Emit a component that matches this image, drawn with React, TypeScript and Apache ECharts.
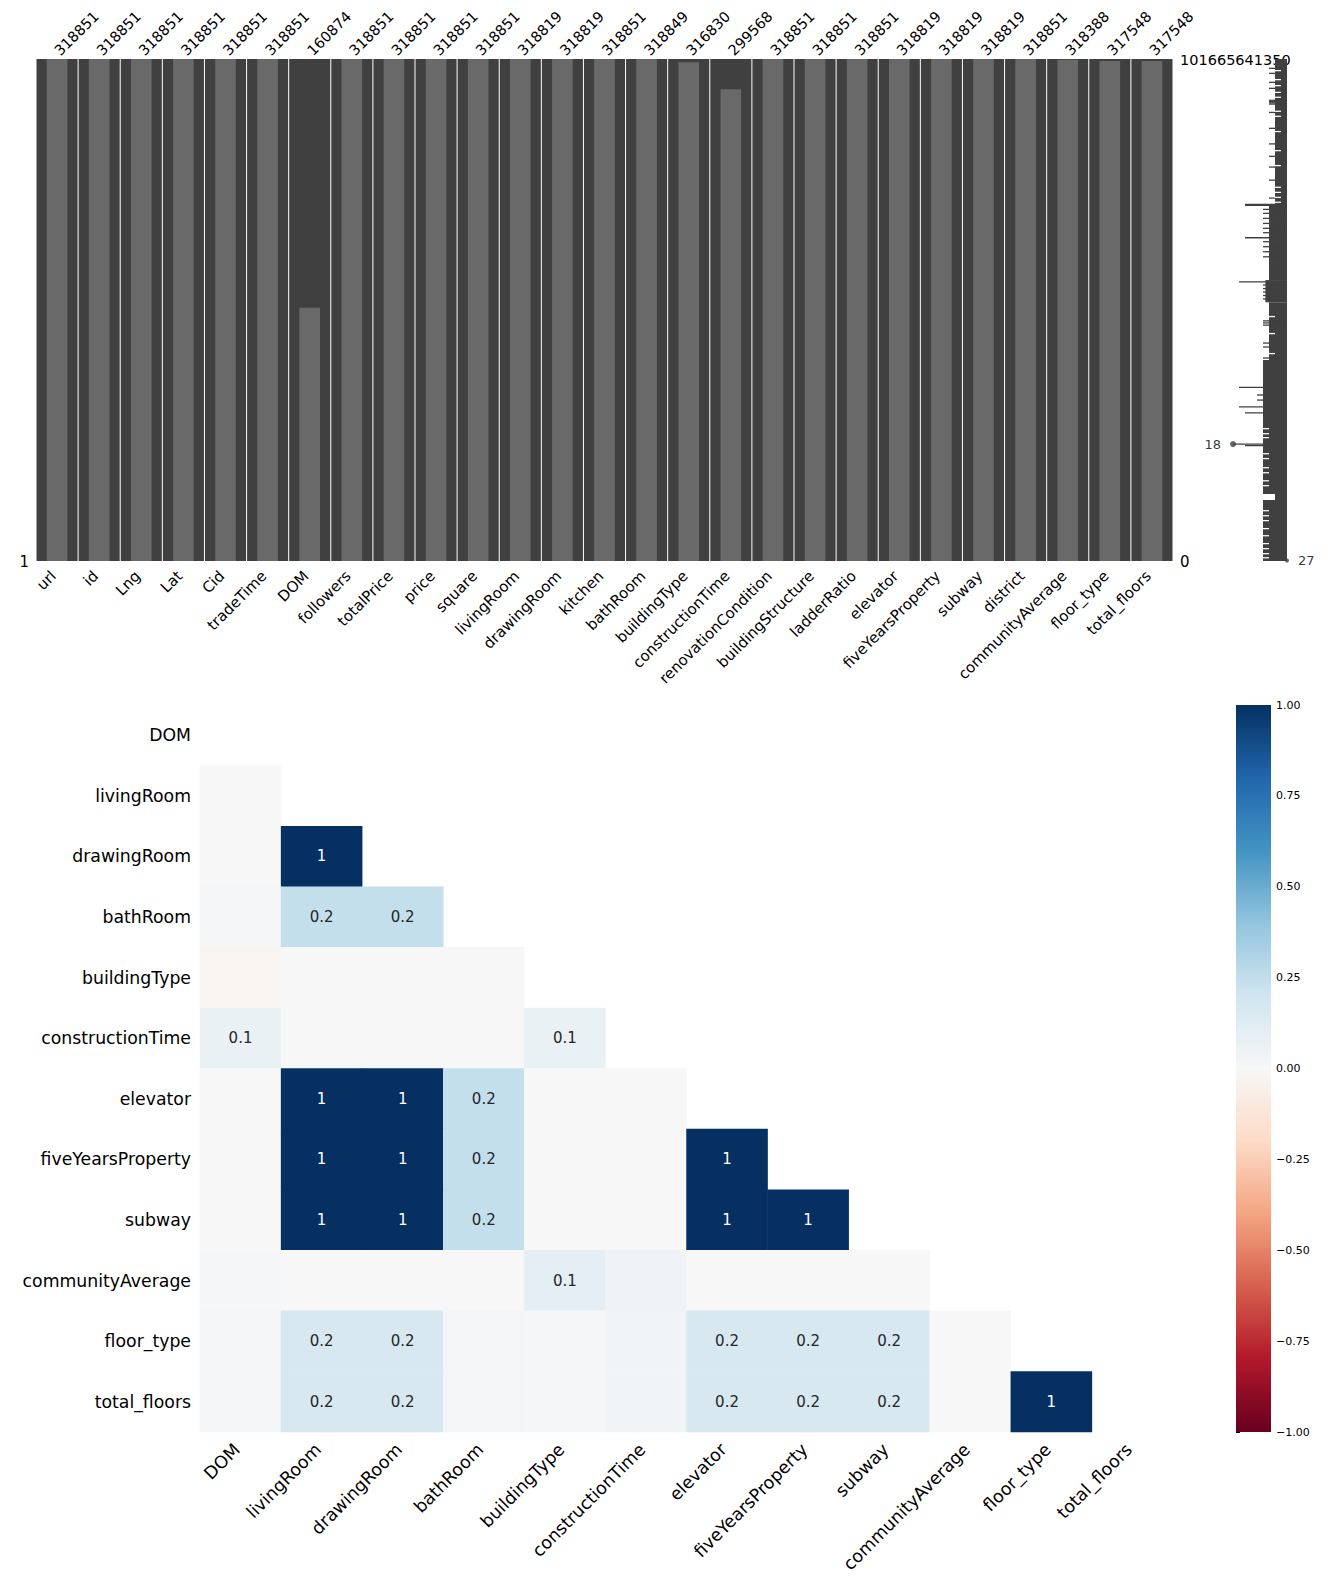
import React, { useEffect, useRef } from 'react';
import * as echarts from 'echarts';

const FONT = 'DejaVu Sans';

// ---------- missingness matrix ----------
const matrixColumns = [
  'url', 'id', 'Lng', 'Lat', 'Cid', 'tradeTime', 'DOM', 'followers', 'totalPrice', 'price',
  'square', 'livingRoom', 'drawingRoom', 'kitchen', 'bathRoom', 'buildingType', 'constructionTime',
  'renovationCondition', 'buildingStructure', 'ladderRatio', 'elevator', 'fiveYearsProperty',
  'subway', 'district', 'communityAverage', 'floor_type', 'total_floors',
];
const nonNullCounts = [
  318851, 318851, 318851, 318851, 318851, 318851, 160874, 318851, 318851, 318851,
  318851, 318819, 318819, 318851, 318849, 316830, 299568,
  318851, 318851, 318851, 318819, 318819,
  318819, 318851, 318388, 317548, 317548,
];
const TOTAL_ROWS = 318851;
const indexTopLabel = '101665641350';
const leftBottomLabel = '1';
const rightBottomLabel = '0';

// ---------- sparkline (row completeness), rows in thousands ----------
const SPARK_MIN = 18;
const SPARK_MAX = 27;
// [rowStart, rowEnd, minimum completeness]
const sparkCore = [
  [0, 92.7, 25],
  [92.7, 140.4, 24],
  [140.4, 154.5, 23.4],
  [154.5, 191.2, 24],
  [191.2, 318.851, 23],
];
// [row, completeness] thin dips to the left
const sparkDips = [
  [5.9, 24], [9.1, 24], [14.8, 24], [18.6, 24], [26.2, 24], [27.0, 24], [27.8, 24], [28.6, 24],
  [33.9, 24], [44.0, 24], [53.9, 24], [61.8, 24], [68.6, 24], [76.9, 24], [88.3, 24],
  [92.4, 20], [93.0, 20],
  [95.5, 23], [98.0, 23], [101.2, 23], [104.4, 23], [107.5, 23], [110.3, 23], [116.0, 23],
  [119.2, 23], [122.4, 23], [125.6, 23], [113.5, 20], [141.5, 19],
  [143.5, 23], [145.8, 23], [148.0, 23], [150.2, 23], [152.4, 23],
  [166.3, 23], [167.6, 23], [169.0, 23], [180.4, 23], [182.9, 23], [189.9, 23],
  [208.5, 19], [213.4, 22], [216.6, 22], [220.9, 19], [224.7, 20], [244.6, 18], [245.6, 20],
];
// [rowStart, rowEnd, from, to] gaps where the line stays right of the core edge
const sparkGaps = [
  [7.0, 7.8, 25, 26], [12.7, 13.5, 25, 26], [16.5, 17.3, 25, 26], [20.8, 21.6, 25, 26],
  [23.9, 24.7, 25, 26], [32.8, 33.6, 25, 26], [36.0, 36.8, 25, 26], [45.7, 46.5, 25, 26],
  [57.8, 58.6, 25, 26], [67.3, 68.1, 25, 26], [81.1, 81.9, 25, 26], [84.3, 85.1, 25, 26],
  [87.5, 88.3, 25, 26], [90.6, 91.4, 25, 26],
  [163.2, 164.0, 24, 25], [174.0, 174.8, 24, 25], [186.7, 187.5, 24, 25],
  [234.4, 235.2, 23, 24], [237.6, 238.4, 23, 24], [240.1, 240.9, 23, 24], [250.3, 251.1, 23, 24],
  [253.4, 254.2, 23, 24], [259.2, 260.0, 23, 24], [262.4, 263.2, 23, 24], [267.5, 268.3, 23, 24],
  [270.6, 271.4, 23, 24], [276.3, 280.1, 23, 25], [286.5, 287.3, 23, 24], [289.7, 290.5, 23, 24],
  [292.8, 293.6, 23, 24], [297.9, 298.7, 23, 24], [302.4, 303.2, 23, 24], [307.4, 308.2, 23, 24],
  [310.6, 311.4, 23, 24], [313.8, 314.6, 23, 24], [316.4, 317.2, 23, 24],
];
const sparkExtremes = [
  { value: [18, 244.6], text: '18', side: 'left', size: 6 },
  { value: [27, 318.6], text: '27', side: 'right', size: 4 },
];

// ---------- nullity correlation heatmap ----------
const heatLabels = [
  'DOM', 'livingRoom', 'drawingRoom', 'bathRoom', 'buildingType', 'constructionTime',
  'elevator', 'fiveYearsProperty', 'subway', 'communityAverage', 'floor_type', 'total_floors',
];
const nullityCorr = [
  [],
  [0.0],
  [0.0, 1],
  [0.01, 0.24, 0.24],
  [-0.02, 0.0, 0.0, 0.0],
  [0.07, 0.0, 0.0, 0.0, 0.07],
  [0.0, 1, 1, 0.24, 0.0, 0.0],
  [0.0, 1, 1, 0.24, 0.0, 0.0, 1],
  [0.0, 1, 1, 0.24, 0.0, 0.0, 1, 1],
  [0.01, 0.0, 0.0, 0.0, 0.1, 0.04, 0.0, 0.0, 0.0],
  [0.02, 0.17, 0.17, 0.02, 0.01, 0.03, 0.17, 0.17, 0.17, 0.0],
  [0.02, 0.17, 0.17, 0.02, 0.01, 0.03, 0.17, 0.17, 0.17, 0.0, 1],
];
const rdBu = [
  '#67001f', '#b2182b', '#d6604d', '#f4a582', '#fddbc7', '#f7f7f7',
  '#d1e5f0', '#92c5de', '#4393c3', '#2166ac', '#053061',
];
const COLORBAR_MIN = -1;
const COLORBAR_MAX = 1;
const COLORBAR_STEP = 0.25;

function fmtCorr(v: number): string {
  if (v === 1) return '1';
  if (v === -1) return '-1';
  if (v >= 0.95 && v < 1) return '<1';
  if (v <= -0.95 && v > -1) return '>-1';
  if (v > -0.05 && v < 0.05) return '';
  return String(Math.round(v * 10) / 10);
}

export default function App() {
  const ref = useRef<HTMLDivElement>(null);

  useEffect(() => {
    const chart = echarts.init(ref.current as HTMLDivElement, null, { renderer: 'svg' });

    const heatData: any[] = [];
    nullityCorr.forEach((row, i) => {
      row.forEach((v, j) => {
        heatData.push({
          value: [j, i, v],
          label: { color: Math.abs(v) > 0.6 ? '#ffffff' : '#262626' },
        });
      });
    });

    const option: any = {
      animation: false,
      backgroundColor: '#ffffff',
      textStyle: { fontFamily: FONT },
      grid: [
        { left: 36, top: 59, width: 1137, height: 502 },
        { left: 1233, top: 59, width: 54, height: 502 },
        { left: 200, top: 705, width: 973, height: 727 },
        { left: 1236, top: 705, width: 35, height: 727 },
      ],
      xAxis: [
        {
          gridIndex: 0, type: 'category', data: matrixColumns, position: 'bottom',
          axisLine: { show: false }, axisTick: { show: false }, splitLine: { show: false },
          axisLabel: { rotate: 45, interval: 0, fontSize: 15, margin: 9, padding: [0, 5, 0, 0], color: '#000', fontFamily: FONT },
        },
        {
          gridIndex: 0, type: 'category', data: nonNullCounts.map(String), position: 'top',
          axisLine: { show: false }, axisTick: { show: false }, splitLine: { show: false },
          axisLabel: { rotate: -45, interval: 0, fontSize: 14.5, margin: 6, color: '#000', fontFamily: FONT },
        },
        { gridIndex: 1, type: 'value', min: SPARK_MIN, max: SPARK_MAX, show: false },
        {
          gridIndex: 2, type: 'category', data: heatLabels, position: 'bottom',
          axisLine: { show: false }, axisTick: { show: false }, splitLine: { show: false },
          axisLabel: { rotate: 45, interval: 0, fontSize: 17.5, margin: 11, padding: [0, 5, 0, 0], color: '#000', fontFamily: FONT },
        },
        { gridIndex: 3, type: 'value', min: 0, max: 1, show: false },
      ],
      yAxis: [
        { gridIndex: 0, type: 'value', min: 0, max: TOTAL_ROWS, inverse: true, show: false },
        { gridIndex: 1, type: 'value', min: 0, max: TOTAL_ROWS / 1000, inverse: true, show: false },
        {
          gridIndex: 2, type: 'category', data: heatLabels, inverse: true,
          axisLine: { show: false }, axisTick: { show: false }, splitLine: { show: false },
          axisLabel: { interval: 0, fontSize: 17.3, margin: 9, color: '#000', fontFamily: FONT },
        },
        {
          gridIndex: 3, type: 'value', min: COLORBAR_MIN, max: COLORBAR_MAX, interval: COLORBAR_STEP,
          position: 'right',
          axisLine: { show: false },
          axisTick: { show: true, length: 4, lineStyle: { color: '#000', width: 1 } },
          splitLine: { show: false },
          axisLabel: {
            fontSize: 11, margin: 5, color: '#000', fontFamily: FONT,
            formatter: (v: number) => (v < 0 ? '\u2212' : '') + Math.abs(v).toFixed(2),
          },
        },
      ],
      visualMap: {
        type: 'continuous', show: false, seriesIndex: 5, dimension: 2,
        min: COLORBAR_MIN, max: COLORBAR_MAX, inRange: { color: rdBu },
      },
      series: [
        {
          type: 'custom', xAxisIndex: 0, yAxisIndex: 0,
          data: nonNullCounts.map((c, i) => [i, c]),
          renderItem: (params: any, api: any) => {
            const idx = api.value(0);
            const count = api.value(1);
            const top = api.coord([idx, 0]);
            const bot = api.coord([idx, TOTAL_ROWS]);
            const lightTop = api.coord([idx, TOTAL_ROWS - count]);
            const bw = api.size([1, 0])[0];
            const lw = bw * 0.49;
            return {
              type: 'group',
              children: [
                { type: 'rect', shape: { x: top[0] - bw / 2 + 0.5, y: top[1], width: bw - 1, height: bot[1] - top[1] }, style: { fill: '#404040' } },
                { type: 'rect', shape: { x: top[0] - lw / 2, y: lightTop[1], width: lw, height: bot[1] - lightTop[1] }, style: { fill: '#696969' } },
              ],
            };
          },
        },
        {
          type: 'custom', xAxisIndex: 2, yAxisIndex: 1, data: sparkCore,
          renderItem: (params: any, api: any) => {
            const a = api.coord([api.value(2), api.value(0)]);
            const b = api.coord([SPARK_MAX, api.value(1)]);
            return { type: 'rect', shape: { x: a[0], y: a[1], width: b[0] - a[0], height: b[1] - a[1] }, style: { fill: '#404040' } };
          },
        },
        {
          type: 'custom', xAxisIndex: 2, yAxisIndex: 1, data: sparkDips,
          renderItem: (params: any, api: any) => {
            const a = api.coord([api.value(1), api.value(0)]);
            const b = api.coord([SPARK_MAX, api.value(0)]);
            return { type: 'rect', shape: { x: a[0], y: a[1] - 0.6, width: b[0] - a[0], height: 1.3 }, style: { fill: '#404040' } };
          },
        },
        {
          type: 'custom', xAxisIndex: 2, yAxisIndex: 1, data: sparkGaps,
          renderItem: (params: any, api: any) => {
            const a = api.coord([api.value(2), api.value(0)]);
            const b = api.coord([api.value(3), api.value(1)]);
            return { type: 'rect', shape: { x: a[0] - 0.5, y: a[1], width: b[0] - a[0] + 0.5, height: Math.max(1, b[1] - a[1]) }, style: { fill: '#ffffff' } };
          },
        },
        {
          type: 'scatter', xAxisIndex: 2, yAxisIndex: 1,
          itemStyle: { color: '#404040' },
          data: sparkExtremes.map((e) => ({
            value: e.value,
            symbolSize: e.size,
            label: {
              show: true, position: e.side, distance: 9, formatter: e.text,
              fontSize: 13, color: '#000', fontFamily: FONT,
            },
          })),
        },
        {
          type: 'heatmap', xAxisIndex: 3, yAxisIndex: 2, data: heatData,
          emphasis: { disabled: true },
          label: {
            show: true, fontSize: 15, fontFamily: FONT,
            formatter: (p: any) => fmtCorr(p.value[2]),
          },
        },
        {
          type: 'custom', xAxisIndex: 4, yAxisIndex: 3, data: [[0, COLORBAR_MIN]],
          renderItem: (params: any, api: any) => {
            const a = api.coord([0, COLORBAR_MAX]);
            const b = api.coord([1, COLORBAR_MIN]);
            const stops = rdBu.slice().reverse().map((c, i) => ({ offset: i / (rdBu.length - 1), color: c }));
            return {
              type: 'rect',
              shape: { x: a[0], y: a[1], width: b[0] - a[0], height: b[1] - a[1] },
              style: { fill: new echarts.graphic.LinearGradient(0, 0, 0, 1, stops) },
            };
          },
        },
      ],
      graphic: [
        { type: 'text', x: 29, y: 562, style: { text: leftBottomLabel, fontSize: 15, fontFamily: FONT, fill: '#000', align: 'right', verticalAlign: 'middle' } },
        { type: 'text', x: 1180, y: 562, style: { text: rightBottomLabel, fontSize: 15, fontFamily: FONT, fill: '#000', align: 'left', verticalAlign: 'middle' } },
        { type: 'text', x: 1180, y: 60, style: { text: indexTopLabel, fontSize: 14.5, fontFamily: FONT, fill: '#000', align: 'left', verticalAlign: 'middle' } },
      ],
    };

    chart.setOption(option);
    return () => chart.dispose();
  }, []);

  return (
    <div
      ref={ref}
      style={{ position: 'absolute', left: 0, top: 0, width: 1333, height: 1586, background: '#fff' }}
    />
  );
}
